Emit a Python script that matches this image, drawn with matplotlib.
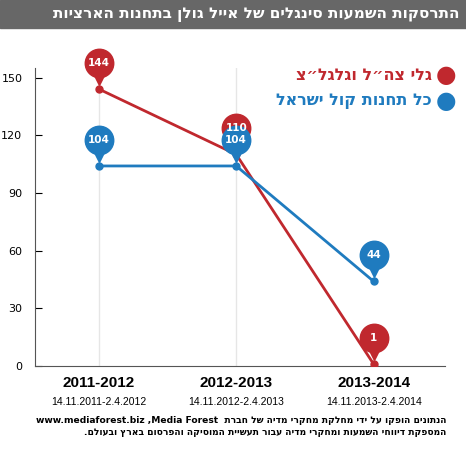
import matplotlib.pyplot as plt
from matplotlib.transforms import offset_copy

seasons = ['2011-2012', '2012-2013', '2013-2014']
ranges = ['14.11.2011-2.4.2012', '14.11.2012-2.4.2013', '14.11.2013-2.4.2014']
galei = [144, 110, 1]
kol = [104, 104, 44]
RED = '#c0282e'
BLUE = '#1f7bbf'


def vis(s):
    # matplotlib has no bidi: reverse Hebrew into visual order
    return s[::-1]


title = 'התרסקות השמעות סינגלים של אייל גולן בתחנות הארציות'
leg_red = 'גלי צה״ל וגלגל״צ'
leg_blue = 'כל תחנות קול ישראל'
foot1 = 'www.mediaforest.biz ,Media Forest  ' + vis('הנתונים הופקו על ידי מחלקת מחקרי מדיה של חברת')
foot2 = vis('המספקת דיווחי השמעות ומחקרי מדיה עבור תעשיית המוסיקה והפרסום בארץ ובעולם.')

fig = plt.figure(figsize=(4.66, 4.65), dpi=100)
fig.patches.append(plt.Rectangle((0, 1 - 28 / 465), 1, 28 / 465, transform=fig.transFigure,
                                 color='#676767', zorder=0))
fig.text(0.985, 1 - 15 / 465, vis(title), color='white', fontsize=11, fontweight='bold',
         ha='right', va='center')

ax = fig.add_axes([0.075, 0.213, 0.88, 0.641])
x = list(range(len(seasons)))
ax.set_xlim(-0.465, 2.52)
ax.set_ylim(0, 155)
for xi in x[:2]:
    ax.axvline(xi, color='#e6e6e6', lw=1, zorder=0)
ax.plot(x, galei, color=RED, lw=2, marker='o', ms=5, zorder=3)
ax.plot(x, kol, color=BLUE, lw=2, marker='o', ms=5, zorder=3)

for vals, c in [(galei, RED), (kol, BLUE)]:
    for xi, v in zip(x, vals):
        tc = offset_copy(ax.transData, fig=fig, x=0, y=26, units='dots')
        tt = offset_copy(ax.transData, fig=fig, x=0, y=10, units='dots')
        ax.plot(xi, v, marker='v', ms=8, color=c, transform=tt, clip_on=False, zorder=4)
        ax.plot(xi, v, marker='o', ms=20.5, color=c, transform=tc, clip_on=False, zorder=4)
        ax.text(xi, v, str(v), transform=tc, color='white', fontsize=7.5, fontweight='bold',
                ha='center', va='center', zorder=5)

ax.set_yticks([0, 30, 60, 90, 120, 150])
ax.set_xticks(x)
ax.set_xticklabels([])
for xi, s, r in zip(x, seasons, ranges):
    ax.text(xi, -9, s, ha='center', va='center', fontsize=11, fontweight='bold', family='Liberation Sans')
    ax.text(xi, -19, r, ha='center', va='center', fontsize=7.5, family='Liberation Sans')
ax.tick_params(axis='y', labelsize=8, length=5, pad=9, direction='in')
ax.tick_params(axis='x', length=0)
ax.spines['top'].set_visible(False)
ax.spines['right'].set_visible(False)
ax.spines['left'].set_color('#555')
ax.spines['bottom'].set_color('#555')

for yy, t, c in [(75, leg_red, RED), (101, leg_blue, BLUE)]:
    fig.text(446 / 466, 1 - yy / 465, '●', color=c, fontsize=17, ha='center', va='center')
    fig.text(432 / 466, 1 - yy / 465, vis(t), color=c, fontsize=11.5, fontweight='bold',
             ha='right', va='center')

fig.text(446 / 466, 1 - 420 / 465, foot1, fontsize=6.6, fontweight='bold', ha='right', va='center')
fig.text(446 / 466, 1 - 432 / 465, foot2, fontsize=6.6, fontweight='bold', ha='right', va='center')

fig.savefig('out.png', dpi=100)
